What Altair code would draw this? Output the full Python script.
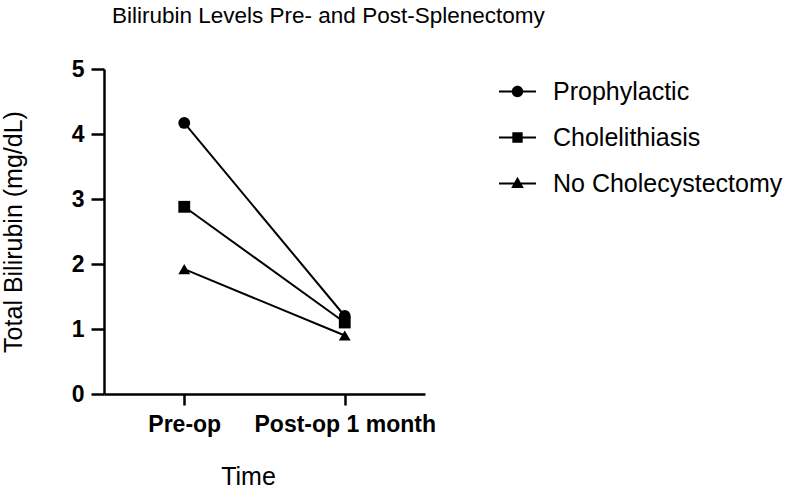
import altair as alt
import pandas as pd

# Mean total bilirubin before and one month after splenectomy
times = ["Pre-op", "Post-op 1 month"]
groups = ["Prophylactic", "Cholelithiasis", "No Cholecystectomy"]
prophylactic = [4.17, 1.2]
cholelithiasis = [2.88, 1.1]
no_cholecystectomy = [1.92, 0.9]

rows = []
for g, vals in zip(groups, [prophylactic, cholelithiasis, no_cholecystectomy]):
    for t, v in zip(times, vals):
        rows.append({"time": t, "group": g, "bilirubin": v})
df = pd.DataFrame(rows)

FONT = "Liberation Sans"

x = alt.X(
    "time:N",
    sort=times,
    scale=alt.Scale(type="point", padding=0.5),
    axis=alt.Axis(
        title="Time",
        titleFont=FONT, titleFontSize=25, titleFontWeight="normal",
        titleColor="black", titlePadding=28, titleX=144,
        labelFont=FONT, labelFontSize=23, labelFontWeight="bold",
        labelColor="black", labelPadding=8, labelAngle=0, labelLimit=400,
        domainColor="black", domainWidth=2.5,
        tickColor="black", tickWidth=2.5, tickSize=11,
        grid=False,
    ),
)
y = alt.Y(
    "bilirubin:Q",
    scale=alt.Scale(domain=[0, 5], nice=False),
    axis=alt.Axis(
        title="Total Bilirubin (mg/dL)",
        titleFont=FONT, titleFontSize=25, titleFontWeight="normal",
        titleColor="black", titlePadding=45,
        labelFont=FONT, labelFontSize=23, labelFontWeight="bold",
        labelColor="black", labelPadding=7,
        values=[0, 1, 2, 3, 4, 5],
        domainColor="black", domainWidth=2.5,
        tickColor="black", tickWidth=2.5, tickSize=13,
        grid=False,
    ),
)

lines = alt.Chart(df).mark_line(color="black", strokeWidth=2).encode(
    x=x, y=y, detail="group:N"
)

points = alt.Chart(df).mark_point(filled=True, color="black", opacity=1, size=140).encode(
    x=x, y=y,
    shape=alt.Shape(
        "group:N", sort=groups,
        scale=alt.Scale(domain=groups, range=["circle", "square", "triangle-up"]),
        legend=None,
    ),
)

# Legend glyphs: a thin bar (the line) with the marker on top, all drawn clockwise
BAR = "M-1,-0.055H1V0.055H-1Z"
legend_shapes = [
    BAR + "M-0.31,0A0.31,0.31 0 1,1 0.31,0A0.31,0.31 0 1,1 -0.31,0Z",
    BAR + "M-0.28,-0.28H0.28V0.28H-0.28Z",
    BAR + "M0,-0.36L0.34,0.24H-0.34Z",
]
legend_layer = alt.Chart(df).mark_point(filled=True, color="black", opacity=0).encode(
    x=x, y=y,
    shape=alt.Shape(
        "group:N", sort=groups,
        scale=alt.Scale(domain=groups, range=legend_shapes),
        legend=alt.Legend(
            title=None, orient="none", legendX=394, legendY=3,
            symbolSize=1369, symbolOpacity=1, symbolFillColor="black",
            labelFont=FONT, labelFontSize=25, labelColor="black",
            labelOffset=16, rowPadding=13, labelLimit=400,
        ),
    ),
)

chart = (
    alt.layer(lines, points, legend_layer)
    .resolve_scale(shape="independent")
    .properties(
        width=321, height=325,
        autosize=alt.AutoSizeParams(type="none"),
        padding={"left": 104, "top": 69, "right": 372, "bottom": 99},
        title=alt.TitleParams(
            "Bilirubin Levels Pre- and Post-Splenectomy",
            font=FONT, fontSize=22.5, fontWeight="normal", color="black",
            anchor="start", frame="group", dx=8, offset=31,
        ),
    )
    .configure_view(stroke=None)
)

chart.save("out.html", embed_options={"renderer": "svg", "actions": False})
